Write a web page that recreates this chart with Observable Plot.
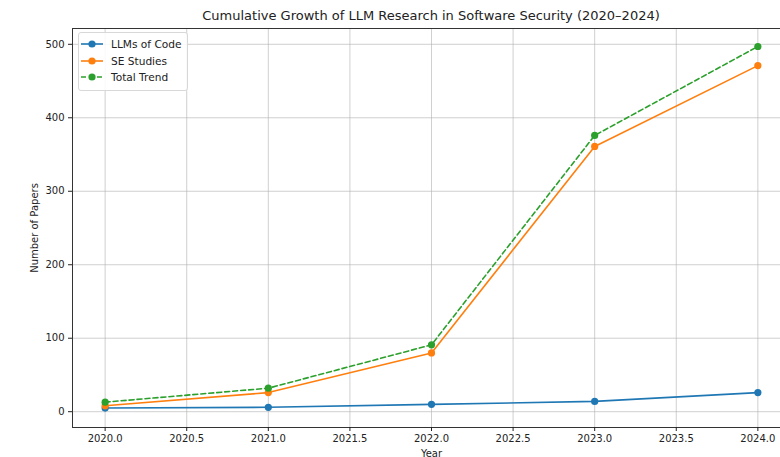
<!DOCTYPE html>
<html>
<head>
<meta charset="utf-8">
<script src="https://cdn.jsdelivr.net/npm/d3@7"></script>
<script src="https://cdn.jsdelivr.net/npm/@observablehq/plot@0.6"></script>
<style>
  html, body { margin: 0; padding: 0; background: #fff; overflow: hidden; width: 780px; height: 457px; }
  body { font-family: "DejaVu Sans", sans-serif; position: relative; }
  #title { position: absolute; left: 72px; width: 718px; top: 8px; text-align: center; font-size: 13px; color: #222; white-space: nowrap; }
  #chart { position: absolute; left: 0; top: 28px; width: 792px; }
  #chart svg { max-width: none !important; }
  #legend { position: absolute; left: 78px; top: 32px; width: 108px; padding: 3px 0 4px 0; border: 1px solid #d8d8d8; border-radius: 3px; background: rgba(255,255,255,0.85); font-size: 10.6px; color: #222; }
  .item { display: flex; align-items: center; height: 16.5px; }
  .item svg { margin-left: 2px; margin-right: 8px; }
</style>
</head>
<body>
<div id="title">Cumulative Growth of LLM Research in Software Security (2020–2024)</div>
<div id="chart"></div>
<div id="legend"></div>
<script>
const years = [2020, 2021, 2022, 2023, 2024];
const llmsOfCode = [5, 6, 10, 14, 26];
const seStudies = [8, 26, 80, 361, 471];
const totalTrend = [13, 32, 91, 376, 497];
const seriesNames = ["LLMs of Code", "SE Studies", "Total Trend"];
const seriesColors = ["#1f77b4", "#ff7f0e", "#2ca02c"];
const seriesDash = [null, null, "5,3"];
const xTicks = [2020, 2020.5, 2021, 2021.5, 2022, 2022.5, 2023, 2023.5, 2024];
const yTicks = [0, 100, 200, 300, 400, 500];

const seriesValues = [llmsOfCode, seStudies, totalTrend];
const rows = [];
seriesNames.forEach((name, i) => {
  years.forEach((yr, j) => rows.push({series: name, year: yr, value: seriesValues[i][j]}));
});

const marks = [
  Plot.gridX(xTicks, {stroke: "#b0b0b0", strokeOpacity: 0.6, strokeWidth: 1}),
  Plot.gridY(yTicks, {stroke: "#b0b0b0", strokeOpacity: 0.6, strokeWidth: 1}),
];
seriesNames.forEach((name, i) => {
  const d = rows.filter(r => r.series === name);
  marks.push(Plot.line(d, {x: "year", y: "value", stroke: seriesColors[i], strokeWidth: 1.6, strokeDasharray: seriesDash[i] || undefined}));
  marks.push(Plot.dot(d, {x: "year", y: "value", fill: seriesColors[i], r: 3.6}));
});
marks.push(Plot.frame({stroke: "#333", strokeWidth: 1}));
marks.push(Plot.axisX(xTicks, {tickFormat: d3.format(".1f"), tickSize: 4, tickPadding: 3, fontSize: 10, label: "Year", labelAnchor: "center", labelArrow: "none", labelOffset: 29, color: "#222"}));
marks.push(Plot.axisY(yTicks, {tickSize: 4, tickPadding: 4, fontSize: 10, label: "Number of Papers", labelAnchor: "center", labelArrow: "none", labelOffset: 42, color: "#222"}));

const chart = Plot.plot({
  width: 792,
  height: 429,
  marginLeft: 72,
  marginRight: 2,
  marginTop: 0,
  marginBottom: 30,
  style: {fontFamily: "DejaVu Sans, sans-serif", fontSize: "10px", color: "#222", background: "transparent", maxWidth: "none"},
  x: {domain: [2019.8, 2024.2]},
  y: {domain: [-21.5, 521.5]},
  marks
});
document.getElementById("chart").appendChild(chart);

const legend = document.getElementById("legend");
seriesNames.forEach((name, i) => {
  const item = document.createElement("div");
  item.className = "item";
  const dash = seriesDash[i] ? `stroke-dasharray="${seriesDash[i]}"` : "";
  item.innerHTML = `<svg width="22" height="10"><line x1="0" y1="5" x2="22" y2="5" stroke="${seriesColors[i]}" stroke-width="1.6" ${dash}/><circle cx="11" cy="5" r="3.6" fill="${seriesColors[i]}"/></svg><span>${name}</span>`;
  legend.appendChild(item);
});
</script>
</body>
</html>
